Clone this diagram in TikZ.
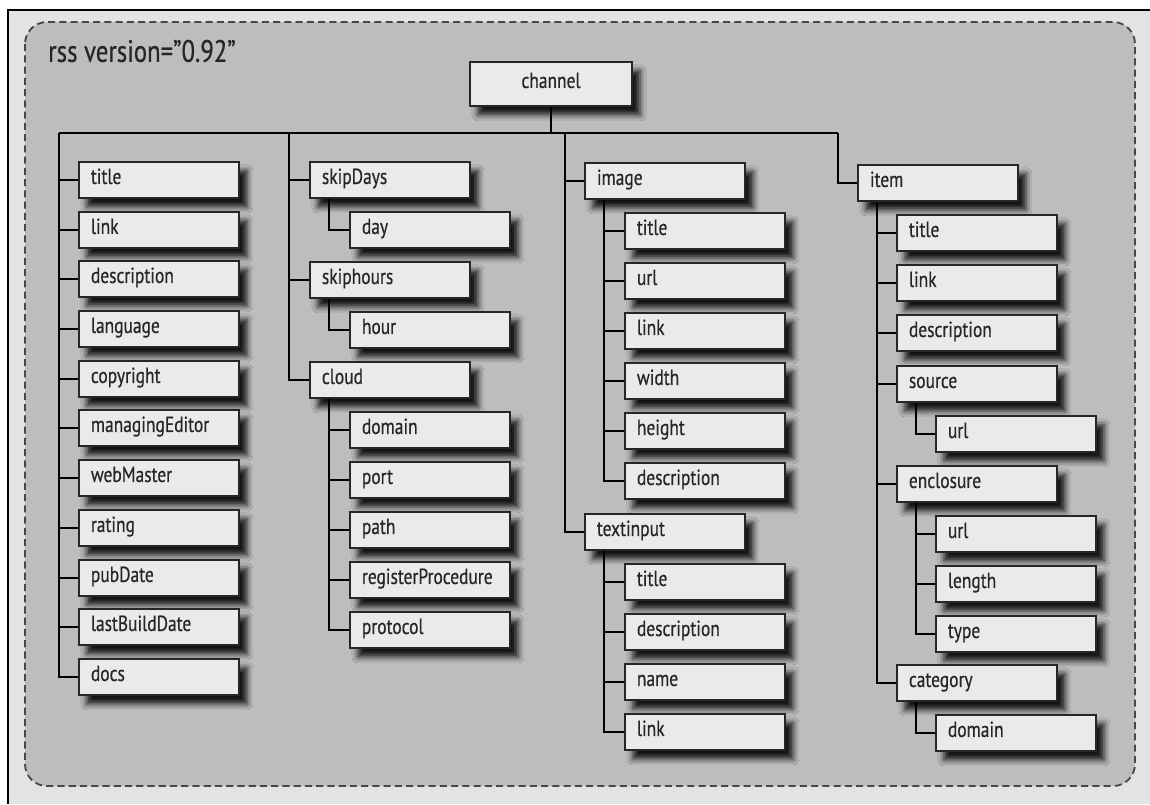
\documentclass[tikz,border=0pt]{standalone}
\usepackage{fontspec}
\setmainfont{PT Sans}[FakeStretch=0.8, FakeBold=0.5]
\usepackage{xcolor}
\definecolor{paper}{HTML}{BDBDBD}
\definecolor{boxfill}{HTML}{EAEAED}
\definecolor{margin}{HTML}{E3E3E3}
\definecolor{ink}{HTML}{262626}
\usetikzlibrary{positioning, calc, backgrounds, shadows.blur}

\begin{document}
\begin{tikzpicture}[
    x=0.025cm, y=-0.025cm,
    elem/.style={draw=ink, line width=1.3pt, fill=boxfill, anchor=west,
        minimum width=4cm, minimum height=0.9cm, text width=3.4cm, inner xsep=0.3cm,
        text height=0.72em, text depth=0.16em, align=left, text=ink,
        font=\fontsize{15.5}{17}\selectfont,
        blur shadow={shadow xshift=0.2cm, shadow yshift=-0.22cm,
            shadow blur radius=0.15cm, shadow opacity=90}},
    root/.style={elem, anchor=center, minimum width=4.05cm, minimum height=1.1cm,
        text width=3.45cm, align=center},
    conn/.style={draw=black, line width=1pt}
]
    \useasboundingbox (0,0) rectangle (1150,804);

    % Title
    \node[anchor=west, font=\fontsize{22}{25}\selectfont, text=ink, inner sep=0] (rssver) at (48,51) {rss version="0.92"};
    \node[root] (channel) at (551,84) {channel};

    % Column 1: channel elements
    \node[elem] (title) at (78,180) {title};
    \node[elem] (link) at (78,230) {link};
    \node[elem] (descr) at (78,279) {description};
    \node[elem] (lang) at (78,329) {language};
    \node[elem] (copyright) at (78,379) {copyright};
    \node[elem] (editor) at (78,428) {managingEditor};
    \node[elem] (webmaster) at (78,478) {webMaster};
    \node[elem] (rating) at (78,528) {rating};
    \node[elem] (pubdate) at (78,578) {pubDate};
    \node[elem] (lastbuild) at (78,627) {lastBuildDate};
    \node[elem] (docs) at (78,677) {docs};

    % Column 2: skipDays, skiphours, cloud
    \node[elem] (skipdays) at (309,180) {skipDays};
    \node[elem] (day) at (349,230) {day};
    \node[elem] (skiphours) at (309,280) {skiphours};
    \node[elem] (hour) at (349,330) {hour};
    \node[elem] (cloud) at (309,380) {cloud};
    \node[elem] (cdomain) at (349,430) {domain};
    \node[elem] (cport) at (349,480) {port};
    \node[elem] (cpath) at (349,530) {path};
    \node[elem] (cregister) at (349,580) {registerProcedure};
    \node[elem] (cprotocol) at (349,630) {protocol};

    % Column 3: image, textinput
    \node[elem] (image) at (584,181) {image};
    \node[elem] (ititle) at (624,231) {title};
    \node[elem] (iurl) at (624,281) {url};
    \node[elem] (ilink) at (624,331) {link};
    \node[elem] (iwidth) at (624,381) {width};
    \node[elem] (iheight) at (624,431) {height};
    \node[elem] (idescr) at (624,481) {description};
    \node[elem] (textinput) at (584,532) {textinput};
    \node[elem] (ttitle) at (624,582) {title};
    \node[elem] (tdescr) at (624,632) {description};
    \node[elem] (tname) at (624,682) {name};
    \node[elem] (tlink) at (624,732) {link};

    % Column 4: item
    \node[elem] (item) at (857,183) {item};
    \node[elem] (itmtitle) at (896,233) {title};
    \node[elem] (itmlink) at (896,283) {link};
    \node[elem] (itmdescr) at (896,333) {description};
    \node[elem] (source) at (896,384) {source};
    \node[elem] (surl) at (935,434) {url};
    \node[elem] (enclosure) at (896,484) {enclosure};
    \node[elem] (eurl) at (935,534) {url};
    \node[elem] (elength) at (935,584) {length};
    \node[elem] (etype) at (935,634) {type};
    \node[elem] (category) at (896,683) {category};
    \node[elem] (catdomain) at (935,733) {domain};

    \begin{pgfonlayer}{background}
        % Page and frame
        \fill[margin] (8,10) rectangle (1150,804);
        \draw[black, line width=1.5pt] (8,804) -- (8,10) -- (1150,10);
        \draw[fill=paper, draw=ink!85, line width=1.3pt, dash pattern=on 5pt off 3pt,
            rounded corners=0.55cm] (25,22) rectangle (1135,786);

        % Bus from channel
        \coordinate (busA) at (59,133);
        \coordinate (busB) at (289,133);
        \coordinate (busC) at (565,133);
        \coordinate (busD) at (838,133);
        \draw[conn] (channel.south) -- (channel.south |- busA);
        \draw[conn] (busA) -- (busD);

        \foreach \n in {title,link,descr,lang,copyright,editor,webmaster,rating,pubdate,lastbuild,docs}
            \draw[conn] (busA) |- (\n.west);
        \foreach \n in {skipdays,skiphours,cloud}
            \draw[conn] (busB) |- (\n.west);
        \foreach \n in {image,textinput}
            \draw[conn] (busC) |- (\n.west);
        \draw[conn] (busD) |- (item.west);

        % Sub-elements
        \draw[conn] ($(skipdays.south west)+(20,0)$) |- (day.west);
        \draw[conn] ($(skiphours.south west)+(20,0)$) |- (hour.west);
        \foreach \n in {cdomain,cport,cpath,cregister,cprotocol}
            \draw[conn] ($(cloud.south west)+(20,0)$) |- (\n.west);
        \foreach \n in {ititle,iurl,ilink,iwidth,iheight,idescr}
            \draw[conn] ($(image.south west)+(20,0)$) |- (\n.west);
        \foreach \n in {ttitle,tdescr,tname,tlink}
            \draw[conn] ($(textinput.south west)+(20,0)$) |- (\n.west);
        \foreach \n in {itmtitle,itmlink,itmdescr,source,enclosure,category}
            \draw[conn] ($(item.south west)+(20,0)$) |- (\n.west);
        \draw[conn] ($(source.south west)+(20,0)$) |- (surl.west);
        \foreach \n in {eurl,elength,etype}
            \draw[conn] ($(enclosure.south west)+(20,0)$) |- (\n.west);
        \draw[conn] ($(category.south west)+(20,0)$) |- (catdomain.west);
    \end{pgfonlayer}
\end{tikzpicture}
\end{document}
